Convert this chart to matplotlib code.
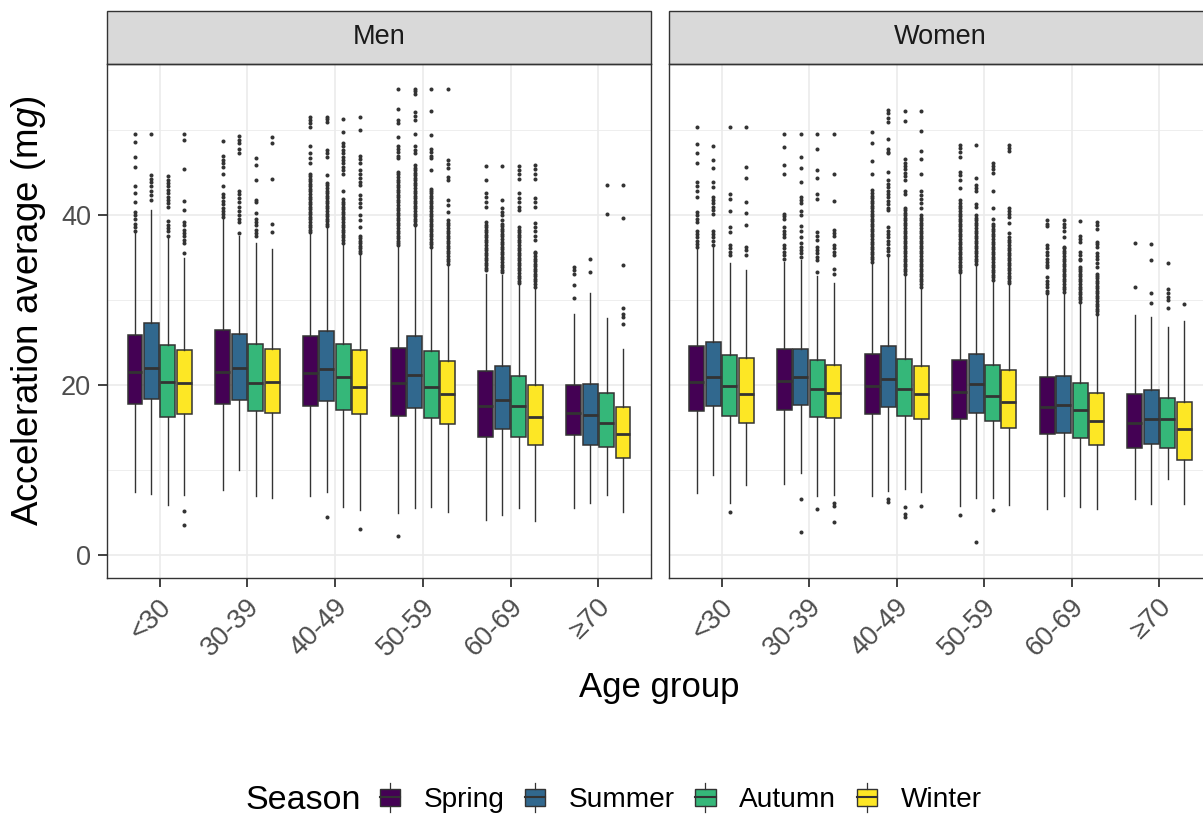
import matplotlib
matplotlib.use('Agg')
import matplotlib.pyplot as plt
import matplotlib.transforms as mtransforms
from matplotlib.patches import Rectangle, Patch
from matplotlib.lines import Line2D
from matplotlib.legend_handler import HandlerBase

plt.rcParams['font.family'] = ['Liberation Sans', 'DejaVu Sans']
plt.rcParams['mathtext.fontset'] = 'custom'
plt.rcParams['mathtext.rm'] = 'Liberation Sans'
plt.rcParams['mathtext.it'] = 'Liberation Sans:italic'

ages = ['<30', '30-39', '40-49', '50-59', '60-69', '≥70']
seasons = ['Spring', 'Summer', 'Autumn', 'Winter']
season_colors = ['#440154', '#31688E', '#35B779', '#FDE725']

# rows: age group, columns: season
men_q1 = [[17.8, 18.4, 16.2, 16.6], [17.8, 18.2, 16.9, 16.7], [17.6, 18.1, 17.1, 16.6],
          [16.4, 17.3, 16.1, 15.4], [13.9, 14.8, 13.9, 12.9], [14.1, 12.9, 12.7, 11.4]]
men_med = [[21.6, 22.0, 20.4, 20.2], [21.6, 22.0, 20.3, 20.4], [21.4, 21.9, 20.9, 19.8],
           [20.3, 21.2, 19.8, 19.0], [17.6, 18.2, 17.5, 16.2], [16.7, 16.5, 15.6, 14.2]]
men_q3 = [[25.9, 27.3, 24.7, 24.1], [26.5, 26.0, 24.9, 24.3], [25.8, 26.4, 24.9, 24.1],
          [24.4, 25.8, 24.0, 22.9], [21.7, 22.2, 21.1, 20.0], [20.0, 20.1, 19.1, 17.4]]
men_lo = [[7.4, 7.2, 5.9, 7.1], [7.6, 10.0, 6.9, 6.7], [6.9, 7.4, 5.6, 5.3],
          [4.9, 5.5, 5.7, 5.1], [4.1, 4.7, 5.5, 4.0], [5.5, 6.1, 7.1, 5.1]]
men_hi = [[37.9, 40.6, 37.3, 35.0], [39.7, 37.6, 36.7, 36.0], [37.9, 38.7, 36.7, 35.4],
          [36.3, 38.8, 36.1, 34.1], [33.1, 33.0, 31.8, 31.6], [28.4, 30.8, 27.9, 24.2]]

women_q1 = [[16.9, 17.5, 16.4, 15.6], [17.1, 17.7, 16.3, 16.1], [16.6, 17.4, 16.4, 16.0],
            [16.0, 16.7, 15.8, 14.9], [14.3, 14.4, 13.8, 12.9], [12.6, 13.1, 12.6, 11.2]]
women_med = [[20.4, 20.9, 19.9, 18.9], [20.5, 20.9, 19.6, 19.1], [19.9, 20.7, 19.6, 18.9],
             [19.2, 20.1, 18.7, 18.0], [17.4, 17.7, 17.1, 15.8], [15.6, 16.0, 16.0, 14.8]]
women_q3 = [[24.6, 25.1, 23.6, 23.2], [24.2, 24.3, 23.0, 22.4], [23.7, 24.6, 23.1, 22.2],
            [23.0, 23.7, 22.4, 21.8], [21.0, 21.1, 20.2, 19.1], [18.9, 19.4, 18.5, 18.0]]
women_lo = [[7.3, 9.4, 6.1, 8.2], [8.4, 9.7, 6.9, 7.1], [6.9, 7.5, 7.8, 7.4],
            [5.8, 6.7, 6.7, 5.9], [5.4, 6.9, 5.7, 5.4], [6.6, 6.0, 8.9, 6.0]]
women_hi = [[36.3, 36.5, 34.4, 33.5], [34.5, 34.7, 32.9, 32.0], [34.4, 35.3, 33.1, 31.6],
            [33.3, 34.3, 32.4, 31.9], [30.8, 30.9, 29.8, 28.4], [28.3, 28.0, 26.9, 27.5]]

men_out = [
    [[49.6, 48.6, 46.9, 45.7, 43.4, 42.6, 41.6, 40.4, 40.0, 39.6, 39.0, 38.6, 38.2],
     [49.6, 44.7, 44.3, 43.9, 43.4, 42.9, 42.4, 41.8],
     [44.6, 44.2, 43.8, 43.4, 43.0, 42.6, 42.2, 41.8, 41.4, 41.0, 39.3, 38.9, 38.5, 38.1, 37.6],
     [49.6, 48.8, 45.4, 41.7, 40.6, 39.2, 38.8, 38.3, 37.9, 37.5, 37.1, 36.7, 35.6, 5.2, 3.5]],
    [[48.7, 47.0, 46.5, 46.1, 45.7, 44.9, 43.4, 42.5, 42.1, 41.7, 41.3, 40.9, 40.5, 40.1, 39.8],
     [49.3, 48.9, 48.5, 47.8, 47.3, 42.9, 42.5, 42.0, 41.5, 41.0, 40.5, 40.0, 39.6, 39.2, 37.9],
     [46.7, 45.9, 44.1, 41.8, 41.6, 40.3, 39.6, 39.2, 38.8, 38.3, 37.9, 37.5],
     [49.2, 48.5, 44.3, 39.0, 38.0]],
    [[51.6, 51.2, 50.8, 50.4, 48.2, 47.3, 46.7, 46.1, 44.9, 44.6, 44.3, 44.0, 43.7, 43.4, 43.1,
      42.8, 42.5, 42.2, 41.9, 41.6, 41.3, 41.0, 40.7, 40.4, 40.1, 39.8, 39.5, 39.2, 38.9, 38.6,
      38.3, 38.0],
     [51.6, 51.3, 51.0, 47.7, 47.3, 46.9, 44.7, 43.8, 43.5, 43.2, 42.9, 42.6, 42.3, 42.0, 41.7,
      41.4, 41.1, 40.8, 40.5, 40.2, 39.9, 39.6, 39.3, 39.0, 38.7, 4.5],
     [51.3, 49.8, 48.5, 48.1, 47.7, 47.3, 46.9, 46.5, 46.1, 45.7, 45.3, 44.9, 42.9, 41.9, 41.6,
      41.3, 41.0, 40.7, 40.4, 40.1, 39.8, 39.5, 39.2, 38.9, 38.6, 38.3, 38.0, 37.7, 37.4, 37.1,
      36.7],
     [51.6, 50.0, 47.0, 46.6, 46.1, 45.3, 44.9, 44.4, 43.9, 43.5, 42.4, 41.9, 41.4, 41.0, 40.0,
      39.4, 38.6, 37.6, 37.3, 37.0, 36.7, 36.4, 36.1, 35.8, 35.5, 3.1]],
    [[54.9, 52.5, 51.2, 50.9, 49.2, 48.2, 47.8, 47.4, 47.0, 46.7, 45.1, 44.8, 44.5, 44.2, 43.9,
      43.6, 43.3, 43.0, 42.7, 42.4, 42.1, 41.8, 41.5, 41.2, 40.9, 40.6, 40.3, 40.0, 39.7, 39.4,
      39.1, 38.8, 38.5, 38.2, 37.9, 37.6, 37.3, 37.0, 36.7, 36.5, 2.2],
     [54.9, 54.6, 54.3, 52.2, 51.7, 51.2, 49.6, 48.1, 47.7, 47.3, 45.9, 45.6, 45.3, 45.0, 44.7,
      44.4, 44.1, 43.8, 43.5, 43.2, 42.9, 42.6, 42.3, 42.0, 41.7, 41.4, 41.1, 40.8, 40.5, 40.2,
      39.9, 39.6, 39.3, 39.0, 38.8],
     [54.9, 52.3, 49.4, 47.8, 47.4, 47.0, 46.7, 45.3, 43.1, 42.9, 42.6, 42.3, 42.0, 41.7, 41.4,
      41.1, 40.8, 40.5, 40.2, 39.9, 39.6, 39.3, 39.0, 38.7, 38.4, 38.1, 37.8, 37.5, 37.2, 36.9,
      36.6, 36.3],
     [54.9, 46.5, 46.0, 45.5, 44.5, 44.1, 41.8, 41.2, 40.4, 39.4, 39.1, 38.8, 38.5, 38.2, 37.9,
      37.6, 37.3, 37.0, 36.7, 36.4, 36.1, 35.8, 35.5, 35.2, 34.9, 34.6, 34.3]],
    [[45.8, 44.2, 42.6, 42.1, 41.5, 41.0, 39.2, 38.9, 38.6, 38.3, 38.0, 37.7, 37.4, 37.1, 36.8,
      36.5, 36.2, 35.9, 35.6, 35.3, 35.0, 34.7, 34.4, 34.1, 33.8, 33.5],
     [45.8, 41.8, 40.8, 40.4, 40.0, 39.4, 39.0, 38.7, 38.4, 38.1, 37.8, 37.5, 37.2, 36.9, 36.6,
      36.3, 36.0, 35.7, 35.4, 35.1, 34.8, 34.5, 34.2, 33.9, 33.6, 33.3],
     [45.8, 45.3, 44.8, 44.3, 42.6, 42.0, 41.5, 41.0, 40.6, 38.6, 38.3, 38.0, 37.7, 37.4, 37.1,
      36.8, 36.5, 36.2, 35.9, 35.6, 35.3, 35.0, 34.7, 34.4, 34.1, 33.8, 33.5, 33.2, 32.9, 32.6,
      32.3, 32.0],
     [45.9, 45.4, 44.9, 44.3, 42.0, 41.5, 41.0, 39.1, 38.6, 38.1, 37.6, 37.1, 35.7, 35.5, 35.2,
      34.9, 34.6, 34.3, 34.0, 33.7, 33.4, 33.1, 32.8, 32.5, 32.2, 31.9, 31.6]],
    [[33.9, 33.5, 33.1, 31.8, 30.3],
     [34.8, 33.3],
     [43.5, 40.1],
     [43.5, 39.7, 34.2, 29.1, 28.4, 28.0, 27.2]],
]

women_out = [
    [[50.4, 48.4, 47.3, 46.2, 43.9, 43.4, 42.9, 42.2, 40.4, 40.0, 39.6, 39.2, 38.2, 37.8, 37.4,
      37.0, 36.6, 36.3],
     [48.2, 46.5, 45.5, 43.9, 43.3, 42.2, 41.8, 41.4, 41.0, 40.6, 40.2, 38.2, 37.8, 37.4, 37.0,
      36.5],
     [50.4, 42.5, 41.9, 40.5, 38.6, 38.0, 36.5, 36.1, 35.7, 35.3, 5.1],
     [50.4, 45.7, 44.4, 41.6, 40.3, 38.9, 36.3, 35.9, 35.3]],
    [[49.6, 48.0, 45.9, 44.8, 40.2, 39.9, 39.6, 38.6, 38.2, 37.8, 37.4, 36.5, 36.1, 35.7, 35.3,
      34.9],
     [49.6, 46.9, 45.6, 43.9, 42.2, 41.8, 41.4, 40.5, 40.0, 38.7, 38.2, 37.4, 36.7, 36.3, 35.9,
      35.5, 35.1, 6.6, 2.7],
     [49.6, 47.8, 45.3, 44.4, 42.5, 41.9, 38.0, 37.6, 37.1, 36.3, 35.9, 35.5, 35.1, 34.7, 33.3,
      5.4],
     [49.6, 44.8, 41.7, 38.3, 37.9, 37.6, 36.5, 36.1, 35.7, 35.3, 33.7, 33.1, 6.1, 5.8, 3.9]],
    [[49.8, 48.5, 46.4, 44.8, 43.0, 42.6, 42.3, 42.0, 41.7, 41.4, 41.1, 40.8, 40.5, 40.2, 39.9,
      39.6, 39.3, 39.0, 38.7, 38.4, 38.1, 37.8, 37.5, 37.2, 36.9, 36.6, 36.3, 36.0, 35.7, 35.4,
      35.1, 34.8, 34.5],
     [52.4, 52.0, 51.5, 51.0, 49.0, 47.8, 47.5, 47.3, 45.1, 44.1, 43.7, 43.3, 42.9, 42.5, 42.1,
      41.7, 41.3, 40.9, 40.6, 38.6, 38.2, 37.8, 37.4, 37.0, 36.6, 36.2, 35.8, 35.3, 6.6, 6.2],
     [52.3, 51.1, 46.6, 46.2, 45.8, 45.4, 45.0, 44.6, 44.1, 42.9, 42.5, 40.9, 40.6, 40.3, 40.0,
      39.7, 39.4, 39.1, 38.8, 38.5, 38.2, 37.9, 37.6, 37.3, 37.0, 36.7, 36.4, 36.1, 35.8, 35.5,
      35.2, 34.9, 34.6, 34.3, 34.0, 33.7, 33.4, 33.1, 5.6, 4.8, 4.5],
     [52.3, 49.9, 47.6, 46.6, 44.9, 42.9, 42.4, 41.9, 41.4, 40.9, 40.0, 39.7, 39.4, 39.1, 38.8,
      38.5, 38.2, 37.9, 37.6, 37.3, 37.0, 36.7, 36.4, 36.1, 35.8, 35.5, 35.2, 34.9, 34.6, 34.3,
      34.0, 33.7, 33.4, 33.1, 32.8, 32.5, 32.2, 31.9, 31.6, 5.8]],
    [[48.3, 47.9, 47.4, 46.9, 45.1, 44.7, 44.2, 43.2, 41.8, 41.4, 41.1, 40.8, 40.5, 40.2, 39.9,
      39.6, 39.3, 39.0, 38.7, 38.4, 38.1, 37.8, 37.5, 37.2, 36.9, 36.6, 36.3, 36.0, 35.7, 35.4,
      35.1, 34.8, 34.5, 34.2, 33.9, 33.6, 33.3, 4.7],
     [48.3, 44.4, 43.5, 43.2, 42.9, 41.3, 41.0, 40.0, 39.7, 39.4, 39.1, 38.8, 38.5, 38.2, 37.9,
      37.6, 37.3, 37.0, 36.7, 36.4, 36.1, 35.8, 35.5, 35.2, 34.9, 34.6, 34.3, 1.5],
     [46.2, 45.8, 45.4, 45.0, 42.9, 40.8, 39.5, 39.0, 38.7, 38.4, 38.1, 37.8, 37.5, 37.2, 36.9,
      36.6, 36.3, 36.0, 35.7, 35.4, 35.1, 34.8, 34.5, 34.2, 33.9, 33.6, 33.3, 33.0, 32.7, 32.4,
      5.3],
     [48.3, 47.9, 47.6, 40.9, 40.5, 40.1, 39.8, 39.1, 37.9, 37.4, 37.1, 36.8, 36.5, 36.2, 35.9,
      35.6, 35.3, 35.0, 34.7, 34.4, 34.1, 33.8, 33.5, 33.2, 32.9, 32.6, 32.3, 32.0]],
    [[39.4, 39.0, 38.7, 36.5, 36.1, 35.7, 35.3, 34.9, 34.5, 34.1, 33.9, 32.7, 32.3, 31.9, 31.5,
      31.1, 30.9],
     [39.4, 39.0, 38.6, 38.2, 37.4, 36.3, 36.1, 35.8, 35.5, 35.2, 34.9, 34.6, 34.3, 34.0, 33.7,
      33.4, 33.1, 32.8, 32.5, 32.2, 31.9, 31.6, 31.3, 31.0],
     [39.3, 37.5, 37.2, 36.9, 35.7, 35.3, 34.9, 34.7, 33.9, 33.7, 33.4, 33.1, 32.8, 32.5, 32.2,
      31.9, 31.6, 31.3, 31.0, 30.7, 30.4, 30.1, 29.8],
     [39.2, 38.8, 38.4, 36.9, 36.6, 36.3, 35.6, 35.2, 34.8, 34.4, 33.9, 33.1, 32.9, 32.6, 32.3,
      32.0, 31.7, 31.4, 31.1, 30.8, 30.5, 30.2, 29.9, 29.6, 29.3, 29.0, 28.7, 28.4]],
    [[36.7, 31.6],
     [36.6, 34.7, 30.9, 29.7],
     [34.4, 31.3, 30.8, 30.4, 30.0, 29.1],
     [29.5]],
]

panels = [
    ('Men', men_q1, men_med, men_q3, men_lo, men_hi, men_out),
    ('Women', women_q1, women_med, women_q3, women_lo, women_hi, women_out),
]

dodge = [-0.28125, -0.09375, 0.09375, 0.28125]
edge = '#333333'

W, H = 1203, 816
fig = plt.figure(figsize=(W / 100, H / 100), dpi=100)
fig.patch.set_facecolor('white')

axes = [fig.add_axes([107 / W, 238 / H, 544 / W, 514 / H]),
        fig.add_axes([669 / W, 238 / H, 543 / W, 514 / H])]

# nudge rotated age labels down-right of their ticks
label_shift = mtransforms.ScaledTranslation(8 / 100, -9 / 100, fig.dpi_scale_trans)

for ax, (title, q1, med, q3, lo, hi, out) in zip(axes, panels):
    for j, season in enumerate(seasons):
        stats = []
        pos = []
        for i in range(len(ages)):
            stats.append(dict(q1=q1[i][j], med=med[i][j], q3=q3[i][j],
                              whislo=lo[i][j], whishi=hi[i][j], fliers=out[i][j]))
            pos.append(i + 1 + dodge[j])
        ax.bxp(stats, positions=pos, widths=0.17, patch_artist=True, showcaps=False,
               boxprops=dict(facecolor=season_colors[j], edgecolor=edge, linewidth=1.1),
               medianprops=dict(color=edge, linewidth=2.0),
               whiskerprops=dict(color=edge, linewidth=1.0),
               flierprops=dict(marker='o', markersize=2.9, markerfacecolor=edge,
                               markeredgewidth=0, linestyle='none'),
               manage_ticks=False, zorder=3)

    ax.set_xlim(0.4, 6.6)
    ax.set_ylim(-2.7, 57.8)
    ax.set_xticks(range(1, 7))
    ax.set_xticklabels(ages)
    ax.set_yticks([0, 20, 40])
    ax.set_yticks([10, 30, 50], minor=True)
    ax.grid(which='major', color='#EBEBEB', linewidth=1.2, zorder=0)
    ax.grid(which='minor', color='#EBEBEB', linewidth=0.6, zorder=0)
    ax.set_axisbelow(True)
    for s in ax.spines.values():
        s.set_color(edge)
        s.set_linewidth(1.0)
    ax.tick_params(which='major', length=6.5, width=1.3, color=edge,
                   labelcolor='#4D4D4D', labelsize=19.5, pad=5)
    ax.tick_params(which='minor', length=0)
    for lab in ax.get_xticklabels():
        lab.set_rotation(45)
        lab.set_ha('right')
        lab.set_va('center')
        lab.set_rotation_mode('anchor')
        lab.set_transform(lab.get_transform() + label_shift)

    # facet strip
    ax.add_patch(Rectangle((0, 1), 1, 53 / 514, transform=ax.transAxes, clip_on=False,
                           facecolor='#D9D9D9', edgecolor=edge, linewidth=1.0))
    ax.text(0.5, 1 + 26.5 / 514, title, transform=ax.transAxes, ha='center', va='center',
            fontsize=19.5, color='#1A1A1A')

axes[1].tick_params(axis='y', left=False, labelleft=False)

fig.text(29 / W, 1 - 311 / H, 'Acceleration average (m$g$)', rotation=90,
         ha='center', va='center', fontsize=26.5)
fig.text(659.5 / W, 1 - 688 / H, 'Age group', ha='center', va='center', fontsize=25)


class BoxKey(HandlerBase):
    def create_artists(self, legend, orig_handle, xdescent, ydescent, width, height,
                       fontsize, trans):
        x0, y0 = -xdescent, -ydescent
        cx = x0 + width / 2
        box = Rectangle((x0, y0 + 0.2 * height), width, 0.6 * height,
                        facecolor=orig_handle.get_facecolor(), edgecolor=edge,
                        linewidth=1.0, transform=trans)
        mid = Line2D([x0, x0 + width], [y0 + 0.5 * height] * 2, color=edge,
                     linewidth=1.5, transform=trans)
        w1 = Line2D([cx, cx], [y0, y0 + 0.2 * height], color=edge, linewidth=0.9,
                    transform=trans)
        w2 = Line2D([cx, cx], [y0 + 0.8 * height, y0 + height], color=edge,
                    linewidth=0.9, transform=trans)
        return [box, mid, w1, w2]


handles = [Patch(facecolor=c) for c in season_colors]
fig.legend(handles, seasons, handler_map={Patch: BoxKey()}, loc='center left',
           bbox_to_anchor=(380 / W, 1 - 798 / H), ncol=4, frameon=False,
           fontsize=20.2, handlelength=0.72, handleheight=1.2, handletextpad=0.85,
           columnspacing=0.72, borderpad=0, borderaxespad=0)
fig.text(245 / W, 1 - 809 / H, 'Season', ha='left', va='baseline', fontsize=24.5)

fig.savefig('out.png', dpi=100, facecolor='white')
